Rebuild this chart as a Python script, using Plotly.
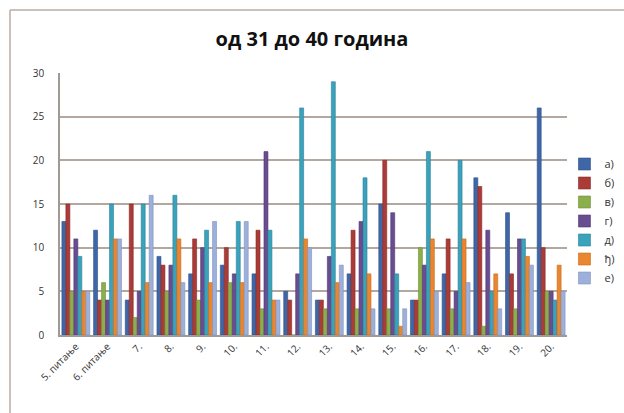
import plotly.graph_objects as go

# categories and series
categories = ["5. питање", "6. питање", "7.", "8.", "9.", "10.", "11.", "12.",
              "13.", "14.", "15.", "16.", "17.", "18.", "19.", "20."]
series_names = ["а)", "б)", "в)", "г)", "д)", "ђ)", "е)"]

s_a = [13, 12, 4, 9, 7, 8, 7, 5, 4, 7, 15, 4, 7, 18, 14, 26]
s_b = [15, 4, 15, 8, 11, 10, 12, 4, 4, 12, 20, 4, 11, 17, 7, 10]
s_v = [5, 6, 2, 5, 4, 6, 3, 0, 3, 3, 3, 10, 3, 1, 3, 5]
s_g = [11, 4, 5, 8, 10, 7, 21, 7, 9, 13, 14, 8, 5, 12, 11, 5]
s_d = [9, 15, 15, 16, 12, 13, 12, 26, 29, 18, 7, 21, 20, 5, 11, 4]
s_dj = [5, 11, 6, 11, 6, 6, 4, 11, 6, 7, 1, 11, 11, 7, 9, 8]
s_e = [5, 11, 16, 6, 13, 13, 4, 10, 8, 3, 3, 5, 6, 3, 8, 5]

values = [s_a, s_b, s_v, s_g, s_d, s_dj, s_e]
colors = ["#3f67a8", "#aa3b37", "#8cae4c", "#6a4c90", "#3aa2ba", "#e9862f", "#9db0da"]
edges = ["#2d4f88", "#862a27", "#6e8f36", "#503872", "#2a8298", "#c96a1c", "#7d92c0"]

fig = go.Figure()
for name, vals, c, ec in zip(series_names, values, colors, edges):
    fig.add_trace(go.Bar(
        name=name, x=categories, y=vals,
        marker=dict(color=c, line=dict(color=ec, width=0.6)),
    ))

fig.update_layout(
    width=624, height=413,
    barmode="group", bargap=0.12, bargroupgap=0,
    paper_bgcolor="white", plot_bgcolor="white",
    margin=dict(l=60, r=57, t=73, b=78, autoexpand=False),
    title=dict(text="<b>од 31 до 40 година</b>", x=0.5, xanchor="center",
               y=1 - 39/413, yref="container", yanchor="middle",
               font=dict(family="Open Sans", size=20, color="#111111")),
    font=dict(family="Open Sans", size=10, color="#333333"),
    legend=dict(x=0.995, xanchor="left", y=0.435, yanchor="middle",
                font=dict(size=11, color="#333333"),
                itemwidth=30, bgcolor="rgba(0,0,0,0)"),
    showlegend=True,
)

fig.update_yaxes(range=[0, 30], dtick=5, showgrid=True, gridcolor="#b3a8a0",
                 gridwidth=1.5, showline=True, linecolor="#a09a95", linewidth=1.5,
                 zeroline=False, ticks="", ticklabelstandoff=12,
                 tickfont=dict(size=10, color="#333333"))
fig.update_xaxes(showline=True, linecolor="#a09a95", linewidth=1.5, ticks="",
                 tickangle=-45, tickfont=dict(size=10, color="#333333"))

# frame around the chart
fig.add_shape(type="line", xref="paper", yref="paper",
              x0=-50/507, x1=-50/507, y0=-78/262, y1=1 + 63/262,
              line=dict(color="#b8aca5", width=1.5))
fig.add_shape(type="line", xref="paper", yref="paper",
              x0=-50/507, x1=564/507, y0=1 + 63/262, y1=1 + 63/262,
              line=dict(color="#b8aca5", width=1.5))

# the page has a default body margin; remove it so the chart sits at 0,0
fig.write_html("out.html", config={"displayModeBar": False},
               post_script="document.body.style.margin='0';")
